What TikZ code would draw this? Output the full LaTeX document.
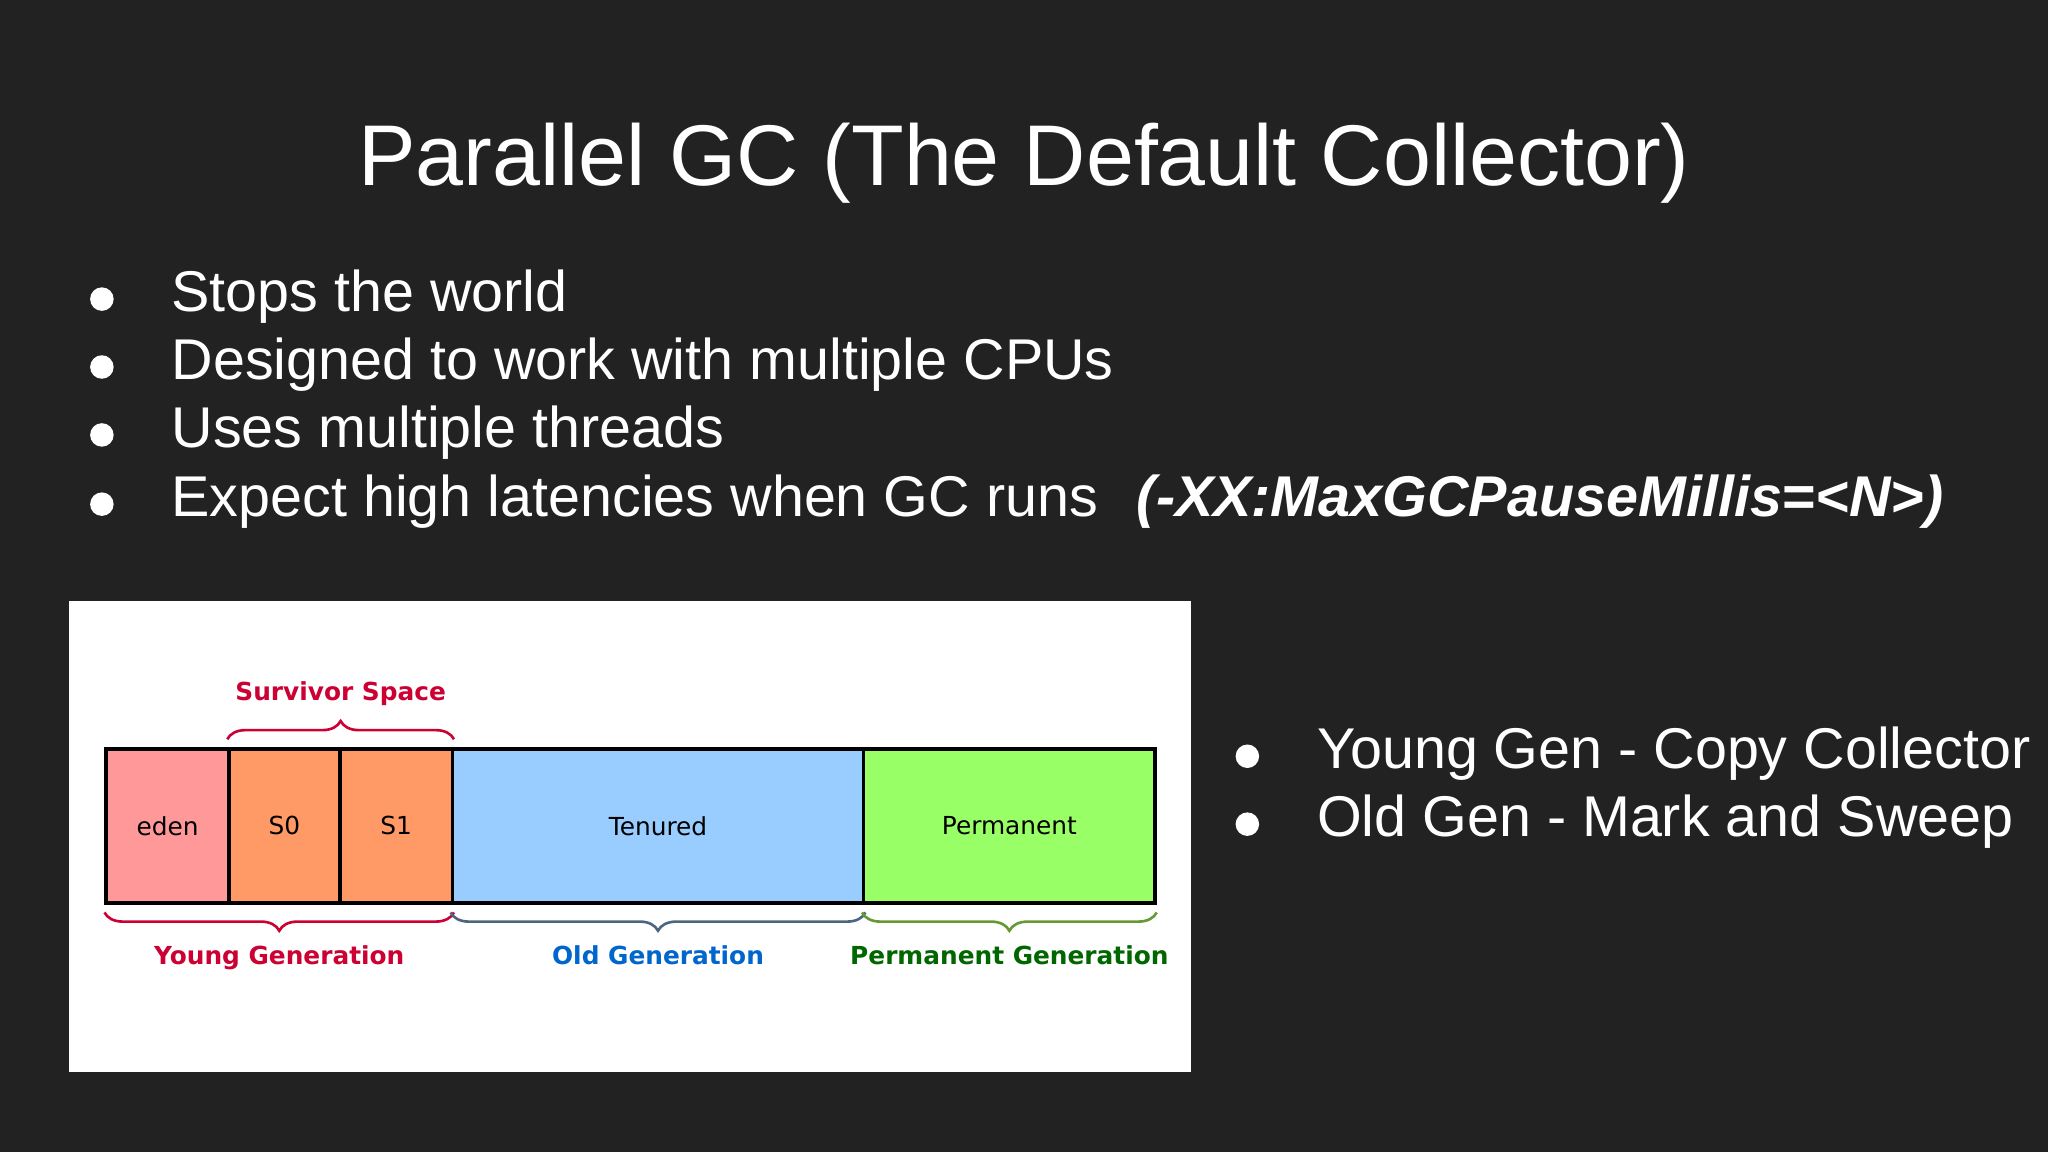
\documentclass[tikz,border=0pt]{standalone}
\usepackage{fontspec}
\setmainfont{Liberation Sans}
\newfontfamily\vfont{DejaVu Sans}
\usetikzlibrary{decorations.pathreplacing}
\definecolor{bg}{HTML}{222222}
\definecolor{edenc}{HTML}{FF9999}
\definecolor{survc}{HTML}{FF9966}
\definecolor{tenc}{HTML}{99CCFF}
\definecolor{permc}{HTML}{99FF66}
\definecolor{redl}{HTML}{CC0033}
\definecolor{bluel}{HTML}{0066CC}
\definecolor{blueb}{HTML}{4D6680}
\definecolor{greenb}{HTML}{669933}
\definecolor{greenl}{HTML}{006600}
\begin{document}
\begin{tikzpicture}[x=0.5pt,y=-0.5pt,
  bul/.style={anchor=west,text=white,font=\fontsize{22}{26}\selectfont,inner sep=0},
  dot/.style={circle,fill=white,minimum size=9pt,inner sep=0},
  cell/.style={draw=black,line width=1.3pt,anchor=north west,inner sep=0,font=\vfont\fontsize{9.5}{11}\selectfont},
  br/.style={decorate,decoration={brace,amplitude=7pt},line width=1pt},
  lab/.style={font=\vfont\bfseries\fontsize{9.5}{11}\selectfont}]
\fill[bg] (0,0) rectangle (1568,882);
\useasboundingbox (0,0) rectangle (1568,882);
\node[text=white,font=\fontsize{33}{38}\selectfont] (title) at (784,125) {Parallel GC (The Default Collector)};
\foreach \y/\t [count=\i] in {227/Stops the world,279/Designed to work with multiple CPUs,331/Uses multiple threads,384/Expect high latencies when GC runs}{
  \node[dot] (d\i) at (78,\y+2) {};
  \node[bul] (b\i) at (131,\y) {\t};
}
\node[bul,font=\fontsize{22}{26}\selectfont\bfseries\itshape] (flag) at (870,384) {(-XX:MaxGCPauseMillis=<N>)};
\node[dot] (d5) at (955,579) {};
\node[bul] (b5) at (1008,577) {Young Gen - Copy Collector};
\node[dot] (d6) at (955,631) {};
\node[bul] (b6) at (1008,629) {Old Gen - Mark and Sweep};
\fill[white] (53,460) rectangle (912,821);
\node[cell,fill=edenc,minimum width=47pt,minimum height=59pt] (eden) at (80,572) {eden};
\node[cell,fill=survc,minimum width=42.5pt,minimum height=59pt] (s0) at (174,572) {S0};
\node[cell,fill=survc,minimum width=43pt,minimum height=59pt] (s1) at (259,572) {S1};
\node[cell,fill=tenc,minimum width=157.5pt,minimum height=59pt] (ten) at (345,572) {Tenured};
\node[cell,fill=permc,minimum width=111.5pt,minimum height=59pt] (perm) at (660,572) {Permanent};
\draw[br,redl] ([yshift=3pt]s0.north west) -- ([yshift=3pt]s1.north east) node[midway,above=9pt,lab,text=redl] (sv) {Survivor Space};
\draw[br,redl] ([yshift=-3pt]s1.south east) -- ([yshift=-3pt]eden.south west) node[midway,below=9pt,lab,text=redl] (yg) {Young Generation};
\draw[br,blueb] ([yshift=-3pt]ten.south east) -- ([yshift=-3pt]ten.south west) node[midway,below=9pt,lab,text=bluel] (og) {Old Generation};
\draw[br,greenb] ([yshift=-3pt]perm.south east) -- ([yshift=-3pt]perm.south west) node[midway,below=9pt,lab,text=greenl] (pg) {Permanent Generation};
\end{tikzpicture}
\end{document}
